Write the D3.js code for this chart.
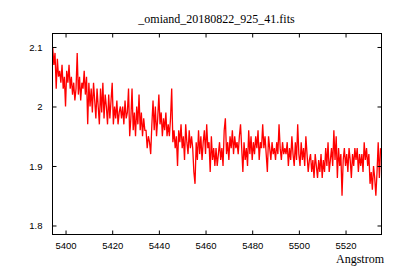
<!DOCTYPE html>
<html>
<head>
<meta charset="utf-8">
<script src="https://cdn.jsdelivr.net/npm/d3@7"></script>
<style>
    body { margin: 0; background: #fff; }
    .tick-label { font-family: "Liberation Sans", Arial, sans-serif; font-size: 9.5px; fill: #000; }
    .serif { font-family: "Liberation Serif", "Times New Roman", serif; font-size: 12px; fill: #000; }
</style>
</head>
<body>
<div id="chart"></div>
<script>
const titleText = "_omiand_20180822_925_41.fits";
const waveStart = 5394.5;
const waveStep = 0.5;
const flux = [
    2.10, 2.07, 2.09, 2.03, 2.08, 2.05, 2.06, 2.04, 2.07, 2.03,
    2.05, 2.00, 2.06, 2.04, 2.07, 2.03, 2.05, 2.02, 2.04, 2.01,
    2.03, 2.09, 2.02, 2.05, 2.01, 2.04, 2.03, 2.06, 2.02, 2.05,
    1.97, 2.04, 2.00, 2.03, 1.99, 2.04, 2.01, 1.98, 2.03, 2.00,
    1.97, 2.03, 1.99, 2.04, 1.98, 2.02, 2.00, 1.97, 2.02, 1.98,
    2.01, 2.04, 1.97, 2.00, 1.98, 2.01, 1.97, 1.99, 2.00, 1.98,
    2.00, 1.97, 2.01, 1.98, 1.99, 2.03, 1.95, 1.98, 2.03, 1.96,
    1.99, 1.95, 2.00, 1.97, 2.02, 1.96, 1.99, 1.95, 1.98, 1.96,
    1.96, 1.93, 1.95, 1.94, 1.92, 1.97, 2.01, 1.96, 2.00, 1.95,
    1.98, 2.02, 1.97, 1.99, 1.95, 1.98, 1.96, 1.99, 1.95, 1.97,
    1.95, 1.98, 2.03, 1.94, 1.96, 1.93, 1.95, 1.90, 1.96, 1.94,
    1.97, 1.93, 1.95, 1.91, 1.97, 1.94, 1.92, 1.96, 1.93, 1.95,
    1.93, 1.89, 1.87, 1.94, 1.91, 1.96, 1.92, 1.95, 1.91, 1.94,
    1.96, 1.92, 1.97, 1.93, 1.94, 1.89, 1.95, 1.91, 1.93, 1.90,
    1.93, 1.90, 1.92, 1.94, 1.91, 1.93, 1.90, 1.96, 1.98, 1.92,
    1.94, 1.91, 1.95, 1.93, 1.96, 1.92, 1.95, 1.93, 1.94, 1.92,
    1.95, 1.97, 1.93, 1.89, 1.94, 1.91, 1.93, 1.90, 1.96, 1.92,
    1.95, 1.91, 1.94, 1.92, 1.95, 1.93, 1.96, 1.91, 1.94, 1.93,
    1.97, 1.93, 1.95, 1.92, 1.89, 1.95, 1.93, 1.91, 1.94, 1.92,
    1.93, 1.91, 1.94, 1.92, 1.97, 1.93, 1.91, 1.94, 1.92, 1.93,
    1.92, 1.94, 1.90, 1.93, 1.91, 1.95, 1.92, 1.90, 1.94, 1.91,
    1.97, 1.92, 1.90, 1.94, 1.91, 1.93, 1.90, 1.95, 1.92, 1.89,
    1.91, 1.92, 1.89, 1.91, 1.88, 1.92, 1.90, 1.88, 1.91, 1.89,
    1.92, 1.88, 1.91, 1.89, 1.93, 1.90, 1.94, 1.89, 1.91, 1.93,
    1.90, 1.96, 1.91, 1.95, 1.88, 1.93, 1.90, 1.92, 1.85, 1.91,
    1.93, 1.90, 1.92, 1.89, 1.93, 1.91, 1.88, 1.92, 1.90, 1.93,
    1.91, 1.93, 1.89, 1.92, 1.90, 1.92, 1.89, 1.94, 1.91, 1.93,
    1.90, 1.92, 1.87, 1.89, 1.86, 1.90, 1.88, 1.85, 1.89, 1.94,
    1.88, 1.93
];
const xTicks = [5400, 5420, 5440, 5460, 5480, 5500, 5520];
const yTicks = [1.8, 1.9, 2.0, 2.1];
const xLabel = "Angstrom";

const width = 400, height = 280;
const frame = { left: 52, right: 381, top: 33, bottom: 234 };

let svg, x, y;

function setupSVG() {
    svg = d3.select("#chart").append("svg")
        .attr("width", width)
        .attr("height", height);

    x = d3.scaleLinear().domain([5394.2, 5535.2]).range([frame.left, frame.right]);
    y = d3.scaleLinear().domain([1.7857, 2.1235]).range([frame.bottom, frame.top]);

    svg.append("clipPath").attr("id", "plot-clip")
        .append("rect")
        .attr("x", frame.left).attr("y", frame.top)
        .attr("width", frame.right - frame.left)
        .attr("height", frame.bottom - frame.top);
}

function drawSpectrum() {
    const points = flux.map((f, i) => ({ wave: waveStart + i * waveStep, flux: f }));
    const line = d3.line()
        .x(d => x(d.wave))
        .y(d => y(d.flux));

    svg.append("path")
        .datum(points)
        .attr("clip-path", "url(#plot-clip)")
        .attr("fill", "none")
        .attr("stroke", "#ff0000")
        .attr("stroke-width", 1.3)
        .attr("d", line);
}

function drawAxes() {
    const tickLen = 4;

    // bottom + top (mirrored, inward ticks)
    const bottomAxis = d3.axisBottom(x).tickValues(xTicks).tickSizeInner(-tickLen).tickSizeOuter(0).tickPadding(8)
        .tickFormat(d3.format("d"));
    const topAxis = d3.axisTop(x).tickValues(xTicks).tickSizeInner(-tickLen).tickSizeOuter(0).tickFormat("");
    const leftAxis = d3.axisLeft(y).tickValues(yTicks).tickSizeInner(-tickLen).tickSizeOuter(0).tickPadding(10)
        .tickFormat(d => d === 2 ? "2" : d3.format(".1f")(d));
    const rightAxis = d3.axisRight(y).tickValues(yTicks).tickSizeInner(-tickLen).tickSizeOuter(0).tickFormat("");

    const gb = svg.append("g").attr("transform", `translate(0,${frame.bottom + 0.5})`).call(bottomAxis);
    const gt = svg.append("g").attr("transform", `translate(0,${frame.top + 0.5})`).call(topAxis);
    const gl = svg.append("g").attr("transform", `translate(${frame.left + 0.5},0)`).call(leftAxis);
    const gr = svg.append("g").attr("transform", `translate(${frame.right + 0.5},0)`).call(rightAxis);

    [gb, gt, gl, gr].forEach(g => {
        g.select(".domain").remove();
        g.selectAll("line").attr("stroke", "#000");
        g.selectAll("text").attr("class", "tick-label").attr("font-family", null).attr("font-size", null);
    });

    // frame
    svg.append("rect")
        .attr("x", frame.left + 0.5).attr("y", frame.top + 0.5)
        .attr("width", frame.right - frame.left)
        .attr("height", frame.bottom - frame.top)
        .attr("fill", "none")
        .attr("stroke", "#000")
        .attr("stroke-width", 1);
}

function drawLabels() {
    svg.append("text")
        .attr("class", "serif")
        .attr("x", (frame.left + frame.right) / 2)
        .attr("y", 23)
        .attr("text-anchor", "middle")
        .text(titleText);

    svg.append("text")
        .attr("class", "serif")
        .attr("x", 384)
        .attr("y", 263)
        .attr("text-anchor", "end")
        .text(xLabel);
}

setupSVG();
drawSpectrum();
drawAxes();
drawLabels();
</script>
</body>
</html>
